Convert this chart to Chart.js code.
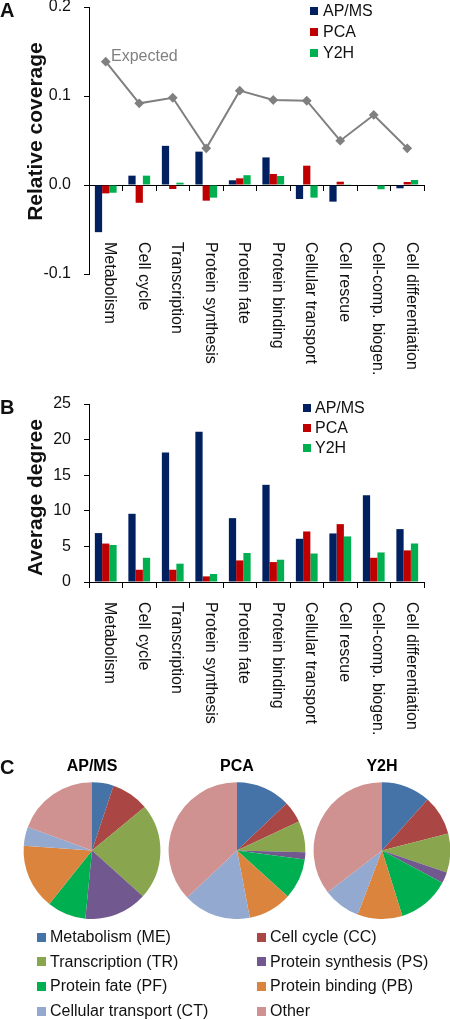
<!DOCTYPE html>
<html>
<head>
<meta charset="utf-8">
<script src="https://cdn.jsdelivr.net/npm/chart.js@4"></script>
<style>
body{margin:0;background:#fff;font-family:"Liberation Sans",Arial,sans-serif;color:#111}
#wrap{position:relative;width:450px;height:1020px;overflow:hidden}
canvas,.t{position:absolute}
.t{white-space:nowrap;line-height:1}
.panel{font-weight:bold;font-size:20px;line-height:20px}
.ytitle{font-weight:bold;font-size:21px;line-height:21px;height:21px;width:260px;text-align:center;transform:rotate(-90deg)}
.item{position:absolute;height:16px;font-size:16px;line-height:16px;white-space:nowrap}
.item i{position:absolute;left:0}
.item span{position:absolute;top:0}
</style>
</head>
<body>
<div id="wrap">
  <canvas id="chartA" width="450" height="380" style="left:0;top:0"></canvas>
  <canvas id="chartB" width="450" height="365" style="left:0;top:380px"></canvas>
  <canvas id="pie1" width="140" height="169" style="left:22px;top:750px"></canvas>
  <canvas id="pie2" width="140" height="169" style="left:167px;top:750px"></canvas>
  <canvas id="pie3" width="140" height="169" style="left:312px;top:750px"></canvas>

  <div class="t panel" style="left:0;top:0">A</div>
  <div class="t panel" style="left:0;top:397px">B</div>
  <div class="t panel" style="left:0;top:757px">C</div>

  <div class="t ytitle" style="left:-96px;top:121px">Relative coverage</div>
  <div class="t ytitle" style="left:-96px;top:487px">Average degree</div>

  <div class="t" style="left:111px;top:48px;font-size:16px;color:#808080">Expected</div>

  <div id="legA"></div>
  <div id="legB"></div>
  <div id="legC"></div>
</div>

<script>
const categories = [
  "Metabolism", "Cell cycle", "Transcription", "Protein synthesis", "Protein fate",
  "Protein binding", "Cellular transport", "Cell rescue", "Cell-comp. biogen.", "Cell differentiation"
]

const seriesNames = ["AP/MS", "PCA", "Y2H"]
const seriesColors = ["#002060", "#C00000", "#00B050"]

// A - relative coverage
const coverageAPMS = [-0.053, 0.0105, 0.044, 0.0375, 0.0053, 0.031, -0.0157, -0.0187, 0, -0.0037]
const coveragePCA = [-0.0094, -0.020, -0.0045, -0.0176, 0.0075, 0.0124, 0.0217, 0.0037, 0, 0.0034]
const coverageY2H = [-0.0087, 0.0105, 0.0026, -0.0142, 0.011, 0.0101, -0.0142, 0.0008, -0.0048, 0.0056]
const coverageExpected = [0.1386, 0.0918, 0.098, 0.0412, 0.106, 0.0955, 0.0947, 0.0498, 0.0787, 0.0412]
const coverageTicks = [-0.1, 0, 0.1, 0.2]

// B - average degree
const degreeAPMS = [6.87, 9.58, 18.2, 21.1, 8.97, 13.65, 6.07, 6.82, 12.2, 7.43]
const degreePCA = [5.4, 1.72, 1.72, 0.79, 3.03, 2.8, 7.1, 8.13, 3.4, 4.44]
const degreeY2H = [5.2, 3.4, 2.57, 1.12, 4.07, 3.13, 4.0, 6.4, 4.15, 5.41]
const degreeTicks = [0, 5, 10, 15, 20, 25]

// C - pies (percent)
const pieCategories = [
  "Metabolism (ME)", "Cell cycle (CC)", "Transcription (TR)", "Protein synthesis (PS)",
  "Protein fate (PF)", "Protein binding (PB)", "Cellular transport (CT)", "Other"
]
const pieColors = ["#4572A7", "#AA4643", "#89A54E", "#71588F", "#00B050", "#DB843D", "#93A9CF", "#D09291"]
const pieAPMS = [5.1, 8.9, 22.7, 14.9, 9.2, 15.4, 4.5, 19.4]
const piePCA = [12.9, 5.1, 7.4, 1.7, 9.6, 10.3, 16.0, 37.0]
const pieY2H = [11.6, 9.4, 9.2, 2.6, 12.4, 10.6, 8.8, 35.4]

const FONT = "'Liberation Sans', Arial, sans-serif"
const tickFont = { family: FONT, size: 16 }
const TEXT = "#111"

function barSets(values){
  return values.map((v, i) => ({
    label: seriesNames[i],
    data: v,
    backgroundColor: seriesColors[i],
    order: 1
  }))
}

function barChart(id, datasets, o){

  return new Chart(document.getElementById(id), {

    type: "bar",

    data: { labels: categories, datasets: datasets },

    options: {
      responsive: false,
      animation: false,
      layout: { padding: o.padding },
      plugins: { legend: { display: false }, tooltip: { enabled: false } },
      datasets: { bar: { categoryPercentage: 0.65, barPercentage: 1 } },
      scales: {
        y: {
          min: o.min,
          max: o.max,
          afterBuildTicks: s => { s.ticks = o.ticks.map(v => ({ value: v })) },
          afterFit: s => { s.width = 89; s.paddingTop = 0; s.paddingBottom = 0 },
          grid: { drawOnChartArea: false, drawTicks: true, tickLength: 5, color: "#000" },
          border: { color: "#000", width: 1 },
          ticks: { padding: 13, font: tickFont, color: TEXT, callback: o.fmt }
        },
        x: {
          position: { y: 0 },
          offset: true,
          grid: { offset: true, drawOnChartArea: false, drawTicks: true, tickLength: 5, color: "#000" },
          border: { color: "#000", width: 1 },
          ticks: { display: false }
        },
        // category names, written top to bottom below the bars
        x2: {
          type: "category",
          position: "top",
          offset: true,
          grid: { display: false, drawTicks: false },
          border: { display: false },
          ticks: {
            autoSkip: false, minRotation: -90, maxRotation: -90, mirror: true,
            padding: o.labelTop - o.padding.top, labelOffset: 4,
            font: tickFont, color: TEXT
          },
          afterFit: s => { s.height = 0; s.paddingLeft = 0; s.paddingRight = 0; s.paddingTop = 0; s.paddingBottom = 0 }
        }
      }
    }
  })
}

const chartA = barChart("chartA",
  [{
    type: "line",
    label: "Expected",
    data: coverageExpected,
    borderColor: "#808080",
    backgroundColor: "#808080",
    borderWidth: 2,
    pointStyle: "rectRot",
    pointRadius: 3.5,
    tension: 0,
    order: -1
  }].concat(barSets([coverageAPMS, coveragePCA, coverageY2H])),
  {
    padding: { top: 7, right: 26, bottom: 106, left: 0 },
    min: -0.1, max: 0.2, ticks: coverageTicks,
    fmt: v => Math.abs(v) < 1e-9 ? "0.0" : v.toFixed(1),
    labelTop: 242
  })

const chartB = barChart("chartB",
  barSets([degreeAPMS, degreePCA, degreeY2H]),
  {
    padding: { top: 24, right: 26, bottom: 163, left: 0 },
    min: 0, max: 25, ticks: degreeTicks,
    fmt: v => String(v),
    labelTop: 222
  })

function pieChart(id, title, values){
  return new Chart(document.getElementById(id), {
    type: "pie",
    data: {
      labels: pieCategories,
      datasets: [{ data: values, backgroundColor: pieColors, borderWidth: 0 }]
    },
    options: {
      responsive: false,
      animation: false,
      layout: { padding: 0 },
      plugins: {
        legend: { display: false },
        tooltip: { enabled: false },
        title: {
          display: true, text: title, color: "#000",
          font: { family: FONT, size: 16, weight: "bold" },
          padding: { top: 7, bottom: 6 }
        }
      }
    }
  })
}

pieChart("pie1", seriesNames[0], pieAPMS)
pieChart("pie2", seriesNames[1], piePCA)
pieChart("pie3", seriesNames[2], pieY2H)

// html legends
function legend(el, names, colors, place){
  names.forEach((n, i) => {
    const col = place.cols ? i % 2 : 0
    const row = place.cols ? Math.floor(i / 2) : i
    const d = document.createElement("div")
    d.className = "item"
    d.style.left = place.x[col] + "px"
    d.style.top = (place.y + row * place.dy - 8) + "px"
    d.innerHTML =
      '<i style="top:' + (8 - place.sq / 2) + 'px;width:' + place.sq + 'px;height:' + place.sq +
      'px;background:' + colors[i] + '"></i><span style="left:' + place.gap + 'px">' + n + '</span>'
    document.getElementById(el).appendChild(d)
  })
}

legend("legA", seriesNames, seriesColors, { x: [310], y: 11, dy: 21, sq: 8, gap: 13 })
legend("legB", seriesNames, seriesColors, { x: [303], y: 408, dy: 20, sq: 8, gap: 12 })
legend("legC", pieCategories, pieColors, { cols: 2, x: [37, 257], y: 937, dy: 24.7, sq: 9, gap: 13 })
</script>
</body>
</html>
